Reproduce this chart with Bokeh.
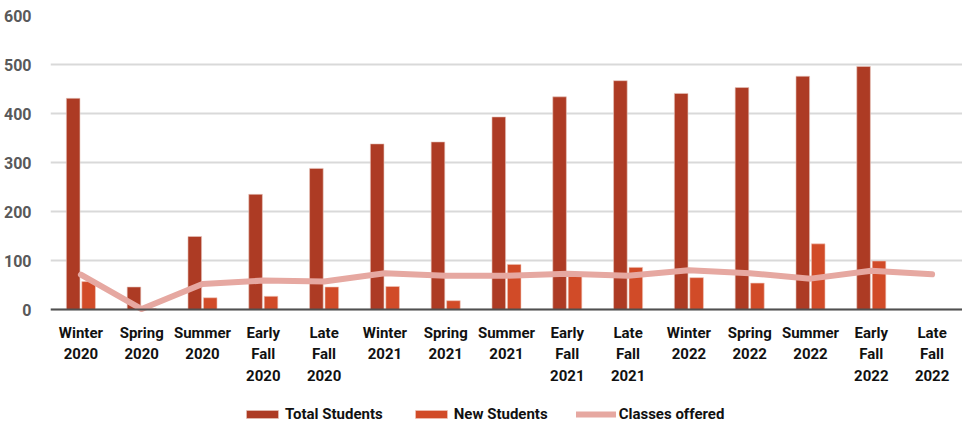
from bokeh.plotting import figure
from bokeh.models import ColumnDataSource, FixedTicker, Range1d, Legend, LegendItem
from bokeh.embed import file_html
from bokeh.resources import INLINE

terms = ["Winter\n2020", "Spring\n2020", "Summer\n2020", "Early\nFall\n2020", "Late\nFall\n2020",
         "Winter\n2021", "Spring\n2021", "Summer\n2021", "Early\nFall\n2021", "Late\nFall\n2021",
         "Winter\n2022", "Spring\n2022", "Summer\n2022", "Early\nFall\n2022", "Late\nFall\n2022"]
total_students = [431, 46, 149, 235, 288, 338, 342, 393, 434, 467, 441, 453, 476, 496, 0]
new_students = [57, 2, 24, 27, 46, 47, 18, 92, 68, 86, 65, 54, 134, 99, 0]
classes_offered = [71, 1, 52, 59, 57, 74, 69, 69, 73, 69, 80, 74, 63, 79, 72]
y_ticks = [0, 100, 200, 300, 400, 500, 600]

idx = list(range(len(terms)))
src = ColumnDataSource(dict(
    x=idx,
    x_total=[i - 0.127 for i in idx],
    x_new=[i + 0.127 for i in idx],
    total=total_students,
    new=new_students,
    classes=classes_offered,
))

FONT = "Roboto"
# frame extends below zero so the category labels and the legend sit inside it
p = figure(frame_width=912, frame_height=410, output_backend="svg", toolbar_location=None,
           x_range=Range1d(-0.5, len(terms) - 0.5), y_range=Range1d(-236.7, 600),
           min_border_left=0, min_border_right=0, min_border_top=15, min_border_bottom=0)
p.outline_line_color = None
p.background_fill_color = "white"
p.border_fill_color = "white"

r_total = p.vbar(x="x_total", top="total", width=0.224, source=src,
                 fill_color="#AD3B24", line_color="#E8C7BF", line_width=0.6)
r_new = p.vbar(x="x_new", top="new", width=0.224, source=src,
               fill_color="#D14B28", line_color="#F0C9BE", line_width=0.6)
r_line = p.line(x="x", y="classes", source=src, line_color="#E6A8A1", line_width=6,
                line_join="round", line_cap="round")

p.xgrid.grid_line_color = None
p.ygrid.grid_line_color = "#d9d9d9"
p.ygrid.grid_line_width = 2
p.yaxis.ticker = FixedTicker(ticks=y_ticks)
p.xaxis.ticker = FixedTicker(ticks=idx)
p.xaxis.major_label_overrides = {i: t for i, t in zip(idx, terms)}
p.xaxis.fixed_location = 0

for ax in p.yaxis:
    ax.axis_line_color = None
    ax.major_tick_line_color = None
    ax.minor_tick_line_color = None
    ax.major_label_text_font = FONT
    ax.major_label_text_font_style = "bold"
    ax.major_label_text_font_size = "16px"
    ax.major_label_text_color = "#595959"
    ax.major_label_standoff = 13

for ax in p.xaxis:
    ax.axis_line_color = "#505050"
    ax.axis_line_width = 2
    ax.major_tick_line_color = None
    ax.minor_tick_line_color = None
    ax.major_label_text_font = FONT
    ax.major_label_text_font_style = "bold"
    ax.major_label_text_font_size = "15px"
    ax.major_label_text_color = "#111111"
    ax.major_label_standoff = 8

legend = Legend(items=[
    LegendItem(label="Total Students", renderers=[r_total]),
    LegendItem(label="New Students", renderers=[r_new]),
    LegendItem(label="Classes offered", renderers=[r_line]),
], orientation="horizontal", location=(192, 2))
legend.label_text_font = FONT
legend.label_text_font_style = "bold"
legend.label_text_font_size = "15px"
legend.label_text_color = "#111111"
legend.glyph_width = 40
legend.glyph_height = 10
legend.label_standoff = 3
legend.spacing = 28
legend.padding = 0
legend.margin = 0
legend.border_line_color = None
legend.background_fill_alpha = 0
p.add_layout(legend)

open("out.html", "w").write(file_html(p, INLINE))
